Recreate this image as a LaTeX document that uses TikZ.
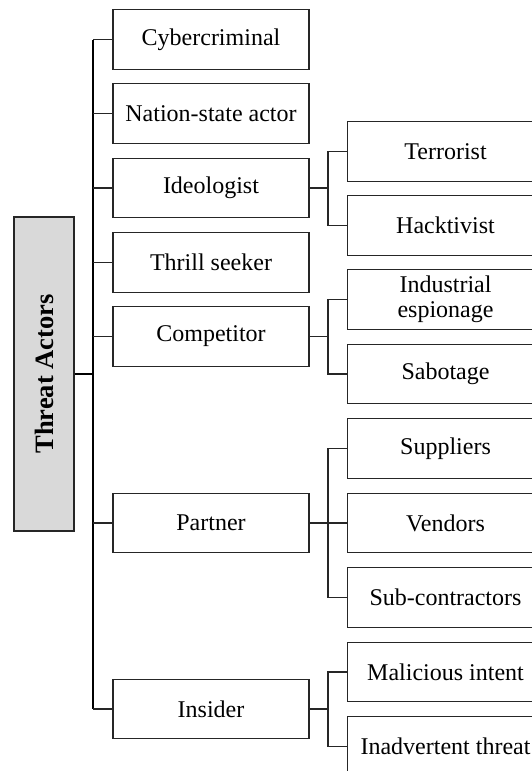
\documentclass[tikz,border=0pt]{standalone}
\usepackage{fontspec}
\setmainfont{Liberation Serif}
\definecolor{rootgray}{HTML}{D9D9D9}
\begin{document}
\begin{tikzpicture}[x=1pt,y=-1pt,
  box/.style={draw=black!85,line width=1.1pt,minimum width=196pt,minimum height=59.5pt,inner sep=0pt,align=center,font=\fontsize{24}{25}\selectfont},
  rootbox/.style={draw=black!85,line width=1.1pt,fill=rootgray,minimum width=60pt,minimum height=314pt,inner sep=0pt},
  link/.style={draw=black!85,line width=1.2pt},
  trunk/.style={draw=black,line width=1.6pt}]
\clip (0,0) rectangle (532,771);
\node[rootbox] (root) at (44,374) {};
\node[rotate=90,font=\fontsize{26.5}{28}\selectfont\bfseries] (roottext) at (root.center) {Threat Actors};
% level 1
\node[box] (cyb) at (211,39.5) {Cybercriminal};
\node[box] (nat) at (211,113.5) {Nation-state actor};
\node[box] (ide) at (211,188) {Ideologist};
\node[box] (thr) at (211,262.5) {Thrill seeker};
\node[box] (com) at (211,336.5) {Competitor};
\node[box] (par) at (211,523) {Partner};
\node[box] (ins) at (211,709) {Insider};
% level 2
\node[box] (ter) at (445.5,151.5) {Terrorist};
\node[box] (hac) at (445.5,225.5) {Hacktivist};
\node[box] (ind) at (445.5,299.5) {Industrial\\espionage};
\node[box] (sab) at (445.5,374) {Sabotage};
\node[box] (sup) at (445.5,448.5) {Suppliers};
\node[box] (ven) at (445.5,523) {Vendors};
\node[box] (sub) at (445.5,597.5) {Sub-contractors};
\node[box] (mal) at (445.5,672) {Malicious intent};
\node[box] (ina) at (445.5,746.5) {Inadvertent threat};
% main trunk
\coordinate (tx) at (93,0);
\draw[trunk] (tx |- cyb.west) -- (tx |- ins.west);
\draw[trunk] (root.east) -- (tx |- root.east);
\foreach \n in {cyb,nat,ide,thr,com,par,ins}
  \draw[link] (tx |- \n.west) -- (\n.west);
% sub trunks
\coordinate (sx) at (328,0);
\draw[link] (ide.east) -- (sx |- ide.east);
\draw[link] (ter.west) -| (sx |- ter.west) -- (sx |- hac.west) -- (hac.west);
\draw[link] (com.east) -- (sx |- com.east);
\draw[link] (ind.west) -| (sx |- ind.west) -- (sx |- sab.west) -- (sab.west);
\draw[link] (par.east) -- (sx |- par.east);
\draw[link] (sup.west) -- (sx |- sup.west) -- (sx |- sub.west) -- (sub.west);
\draw[link] (sx |- ven.west) -- (ven.west);
\draw[link] (ins.east) -- (sx |- ins.east);
\draw[link] (mal.west) -- (sx |- mal.west) -- (sx |- ina.west) -- (ina.west);
\end{tikzpicture}
\end{document}
